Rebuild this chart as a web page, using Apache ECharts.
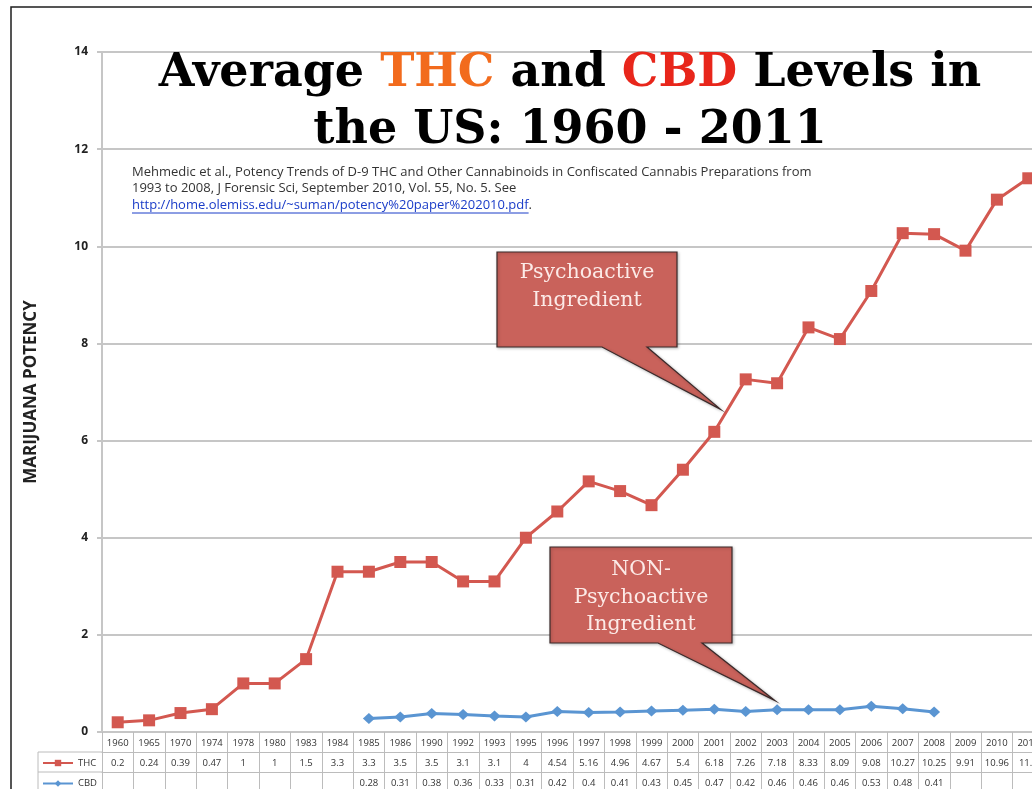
<!DOCTYPE html>
<html>
<head>
<meta charset="utf-8">
<title>Average THC and CBD Levels in the US: 1960 - 2011</title>
<script src="https://cdn.jsdelivr.net/npm/echarts@6/dist/echarts.min.js"></script>
<style>
  html, body { margin: 0; padding: 0; background: #ffffff; }
  #chart { width: 1032px; height: 789px; }
</style>
</head>
<body>
<div id="chart"></div>
<script>
// Sample years (categories) and average potency (%) per cannabinoid
const years = ['1960', '1965', '1970', '1974', '1978', '1980', '1983', '1984', '1985', '1986',
  '1990', '1992', '1993', '1995', '1996', '1997', '1998', '1999', '2000', '2001',
  '2002', '2003', '2004', '2005', '2006', '2007', '2008', '2009', '2010', '2011'];
const thc = [0.2, 0.24, 0.39, 0.47, 1, 1, 1.5, 3.3, 3.3, 3.5,
  3.5, 3.1, 3.1, 4, 4.54, 5.16, 4.96, 4.67, 5.4, 6.18,
  7.26, 7.18, 8.33, 8.09, 9.08, 10.27, 10.25, 9.91, 10.96, 11.4];
const cbd = [null, null, null, null, null, null, null, null, 0.28, 0.31,
  0.38, 0.36, 0.33, 0.31, 0.42, 0.4, 0.41, 0.43, 0.45, 0.47,
  0.42, 0.46, 0.46, 0.46, 0.53, 0.48, 0.41, null, null, null];
const seriesNames = ['THC', 'CBD'];
const yMin = 0, yMax = 14, yStep = 2;

const citationLines = [
  'Mehmedic et al., Potency Trends of D-9 THC and Other Cannabinoids in Confiscated Cannabis Preparations from',
  '1993 to 2008, J Forensic Sci, September 2010, Vol. 55, No. 5. See'
];
const citationLink = 'http://home.olemiss.edu/~suman/potency%20paper%202010.pdf';

const THC_COLOR = '#D35850';
const CBD_COLOR = '#5A95D2';
const GRID_GRAY = '#c6c6c6';
const TABLE_GRAY = '#bcbcbc';
const ROW = 20;
const GRID = { left: 102, top: 52, width: 942, height: 680 };
const tableText = { fontFamily: 'Open Sans', fontSize: 9.5, color: '#333' };

const chart = echarts.init(document.getElementById('chart'), null, { renderer: 'canvas' });

function fmtVal(v) { return v == null ? '' : String(v); }

// The data table under the plot is built from three stacked category axes:
// years, THC values, CBD values. Their ticks form the cell borders.
function tableAxis(row, fmt) {
  return {
    type: 'category',
    data: years,
    gridIndex: 0,
    position: 'bottom',
    offset: row * ROW,
    boundaryGap: true,
    axisLine: { show: true, lineStyle: { color: row === 0 ? GRID_GRAY : TABLE_GRAY, width: row === 0 ? 2 : 1 } },
    axisTick: { show: true, interval: 0, inside: false, length: ROW, lineStyle: { color: TABLE_GRAY, width: 1 } },
    axisLabel: Object.assign({ show: true, interval: 0, margin: 6, hideOverlap: false, formatter: fmt }, tableText),
    splitLine: { show: false }
  };
}

const TITLE_FONT = { fontFamily: 'DejaVu Serif', fontWeight: 'bold', fontSize: 46, lineHeight: 57 };

const option = {
  animation: false,
  backgroundColor: '#ffffff',
  title: {
    left: 565,
    top: 41,
    textAlign: 'center',
    text: '{a|Average }{t|THC}{a| and }{c|CBD}{a| Levels in}\n{a|the US: 1960 - 2011}',
    textStyle: {
      rich: {
        a: Object.assign({ color: '#000' }, TITLE_FONT),
        t: Object.assign({ color: '#F26B1D' }, TITLE_FONT),
        c: Object.assign({ color: '#E8261B' }, TITLE_FONT)
      }
    }
  },
  grid: Object.assign({ containLabel: false, outerBoundsMode: 'none' }, GRID),
  legend: {
    data: seriesNames,
    orient: 'vertical',
    left: 42,
    top: 758,
    height: 40,
    padding: 0,
    itemWidth: 30,
    itemHeight: 8,
    itemGap: 10.5,
    selectedMode: false,
    textStyle: Object.assign({ lineHeight: 8 }, tableText)
  },
  xAxis: [
    tableAxis(0, (v) => v),
    tableAxis(1, (v, i) => fmtVal(thc[i])),
    tableAxis(2, (v, i) => fmtVal(cbd[i]))
  ],
  yAxis: {
    type: 'value',
    min: yMin,
    max: yMax,
    interval: yStep,
    axisLine: { show: true, lineStyle: { color: GRID_GRAY, width: 2 } },
    axisTick: { show: true, length: 5, inside: false, lineStyle: { color: GRID_GRAY, width: 2 } },
    axisLabel: { margin: 14, fontFamily: 'Open Sans', fontWeight: 'bold', fontSize: 12, color: '#222' },
    splitLine: { show: true, lineStyle: { color: GRID_GRAY, width: 2 } },
    name: 'MARIJUANA POTENCY',
    nameLocation: 'middle',
    nameRotate: 90,
    nameGap: 62,
    nameTextStyle: { fontFamily: 'Open Sans', fontWeight: 'bold', fontSize: 17, color: '#222' }
  },
  series: [
    {
      name: seriesNames[0],
      type: 'line',
      data: thc,
      xAxisIndex: 0,
      symbol: 'rect',
      symbolSize: 12,
      lineStyle: { width: 3, color: THC_COLOR },
      itemStyle: { color: THC_COLOR },
      z: 3
    },
    {
      name: seriesNames[1],
      type: 'line',
      data: cbd,
      xAxisIndex: 0,
      symbol: 'diamond',
      symbolSize: [12, 11],
      lineStyle: { width: 3, color: CBD_COLOR },
      itemStyle: { color: CBD_COLOR },
      z: 3
    }
  ]
};

chart.setOption(option);

// ---- Annotations: frame, legend cells, citation and callouts ----
const measure = document.createElement('canvas').getContext('2d');
function textWidth(str, font) { measure.font = font; return measure.measureText(str).width; }

function toPx(idx, seriesData) {
  return chart.convertToPixel({ xAxisIndex: 0, yAxisIndex: 0 }, [idx, seriesData[idx]]);
}

function callout(box, base, tip, lines, lineYs) {
  const els = [];
  els.push({
    type: 'polygon',
    z: 10,
    shape: {
      points: [
        [box.x0, box.y0], [box.x1, box.y0], [box.x1, box.y1],
        [base[1], box.y1], tip, [base[0], box.y1], [box.x0, box.y1]
      ]
    },
    style: {
      fill: '#C9625B',
      stroke: '#3a2a2a',
      lineWidth: 1.2,
      shadowBlur: 3,
      shadowColor: 'rgba(0,0,0,0.25)',
      shadowOffsetX: 1,
      shadowOffsetY: 1
    }
  });
  lines.forEach((t, i) => {
    els.push({
      type: 'text',
      z: 11,
      x: (box.x0 + box.x1) / 2,
      y: lineYs[i],
      style: {
        text: t,
        fill: '#FCEAE7',
        font: '20.5px "DejaVu Serif"',
        align: 'center',
        verticalAlign: 'middle',
        textAlign: 'center',
        textVerticalAlign: 'middle'
      }
    });
  });
  return els;
}

const iA = years.indexOf('2001');
const iB = years.indexOf('2002');
const pA = toPx(iA, thc);
const pB = toPx(iB, thc);
const thcTip = [pA[0] + (pB[0] - pA[0]) * 0.2, pA[1] + (pB[1] - pA[1]) * 0.2 - 12];
const cbdPt = toPx(years.indexOf('2003'), cbd);
const cbdTip = [cbdPt[0] - 2, cbdPt[1] - 9];

const citeFont = '13px "Open Sans"';
const linkW = textWidth(citationLink, citeFont);
const citeX = 132;
const tableTop = GRID.top + GRID.height;

const graphics = [
  // outer frame
  {
    type: 'rect', z: 0, silent: true,
    shape: { x: 11, y: 7, width: 1100, height: 900 },
    style: { fill: 'none', stroke: '#1e1e1e', lineWidth: 1.5 }
  },
  // legend cells to the left of the data table
  {
    type: 'polyline', z: 1, silent: true,
    shape: { points: [[GRID.left, tableTop + ROW], [38, tableTop + ROW], [38, tableTop + 3 * ROW]] },
    style: { stroke: TABLE_GRAY, lineWidth: 1, fill: 'none' }
  },
  {
    type: 'line', z: 1, silent: true,
    shape: { x1: 38, y1: tableTop + 2 * ROW, x2: GRID.left, y2: tableTop + 2 * ROW },
    style: { stroke: TABLE_GRAY, lineWidth: 1 }
  },
  // citation
  {
    type: 'text', z: 5, x: citeX, y: 172,
    style: { text: citationLines[0], fill: '#333', font: citeFont, verticalAlign: 'middle', textVerticalAlign: 'middle' }
  },
  {
    type: 'text', z: 5, x: citeX, y: 188.5,
    style: { text: citationLines[1], fill: '#333', font: citeFont, verticalAlign: 'middle', textVerticalAlign: 'middle' }
  },
  {
    type: 'text', z: 5, x: citeX, y: 205.5,
    style: { text: citationLink, fill: '#1a3cc8', font: citeFont, verticalAlign: 'middle', textVerticalAlign: 'middle' }
  },
  {
    type: 'line', z: 5, silent: true,
    shape: { x1: citeX, y1: 213, x2: citeX + linkW, y2: 213 },
    style: { stroke: '#1a3cc8', lineWidth: 1 }
  },
  {
    type: 'text', z: 5, x: citeX + linkW, y: 205.5,
    style: { text: '.', fill: '#333', font: citeFont, verticalAlign: 'middle', textVerticalAlign: 'middle' }
  }
].concat(
  callout({ x0: 497, y0: 252, x1: 677, y1: 347 }, [602, 647], thcTip,
    ['Psychoactive', 'Ingredient'], [273, 301]),
  callout({ x0: 550, y0: 547, x1: 732, y1: 643 }, [658, 702], cbdTip,
    ['NON-', 'Psychoactive', 'Ingredient'], [570, 597.5, 625])
);

chart.setOption({ graphic: { elements: graphics } });
</script>
</body>
</html>
